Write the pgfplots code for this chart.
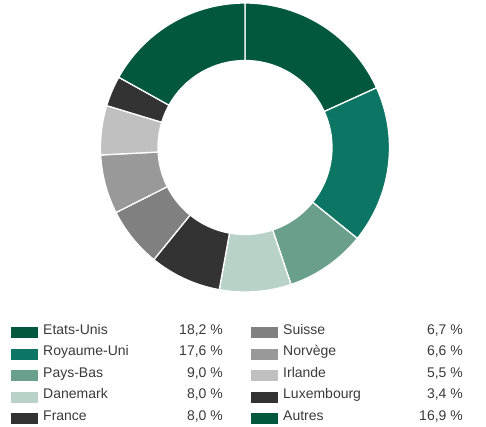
\documentclass[border=0pt]{standalone}
\usepackage{pgfplots}
\usepackage{pgfplotstable}
\pgfplotsset{compat=1.18}
\usepackage{fontspec}
\setmainfont{Liberation Sans}
\definecolor{c0}{HTML}{02573F}
\definecolor{c1}{HTML}{0C7563}
\definecolor{c2}{HTML}{6A9F8C}
\definecolor{c3}{HTML}{B8D2C8}
\definecolor{c4}{HTML}{333333}
\definecolor{c5}{HTML}{808080}
\definecolor{c6}{HTML}{999999}
\definecolor{c7}{HTML}{C0C0C0}
\definecolor{c8}{HTML}{333333}
\definecolor{c9}{HTML}{02573F}
\definecolor{txt}{HTML}{3A3A3A}
\pgfplotstableread{
idx value
0 18.2
1 17.6
2 9.0
3 8.0
4 8.0
5 6.7
6 6.6
7 5.5
8 3.4
9 16.9
}\data
\begin{document}
\begin{tikzpicture}
\begin{axis}[scale only axis, width=486bp, height=427bp,
  xmin=0, xmax=486, ymin=0, ymax=427, y dir=reverse,
  hide axis, clip=false]
\path (axis cs:0,0) rectangle (axis cs:486,427);
\pgfmathsetmacro\cum{0}
\pgfplotsforeachungrouped \i in {0,...,9}{%
  \pgfplotstablegetelem{\i}{value}\of\data
  \let\val=\pgfplotsretval
  \pgfmathsetmacro\aa{90-3.603604*\cum}
  \pgfmathsetmacro\cum{\cum+\val}
  \pgfmathsetmacro\bb{90-3.603604*\cum}
  \edef\cmd{\noexpand\fill[c\i, draw=white, line width=1.3bp] (axis cs:245,147.5) ++(\aa:144.5bp) arc[start angle=\aa, end angle=\bb, radius=144.5bp] -- ++(\bb:-57.5bp) arc[start angle=\bb, end angle=\aa, radius=87bp] -- cycle;}%
  \cmd
}
% legend
\tikzset{lab/.style={anchor=base west, text=txt, inner sep=0pt, font=\fontsize{14bp}{16bp}\selectfont},
         num/.style={anchor=base east, text=txt, inner sep=0pt, font=\fontsize{14bp}{16bp}\selectfont}}
\fill[c0] (axis cs:11,327) rectangle (axis cs:38,338);
\node[lab] at (axis cs:43,334) {Etats-Unis};
\node[num] at (axis cs:223,334) {18,2 \%};
\fill[c1] (axis cs:11,348.5) rectangle (axis cs:38,359.5);
\node[lab] at (axis cs:43,355.5) {Royaume-Uni};
\node[num] at (axis cs:223,355.5) {17,6 \%};
\fill[c2] (axis cs:11,370) rectangle (axis cs:38,381);
\node[lab] at (axis cs:43,377) {Pays-Bas};
\node[num] at (axis cs:223,377) {9,0 \%};
\fill[c3] (axis cs:11,391.5) rectangle (axis cs:38,402.5);
\node[lab] at (axis cs:43,398.5) {Danemark};
\node[num] at (axis cs:223,398.5) {8,0 \%};
\fill[c4] (axis cs:11,413) rectangle (axis cs:38,424);
\node[lab] at (axis cs:43,420) {France};
\node[num] at (axis cs:223,420) {8,0 \%};
\fill[c5] (axis cs:251,327) rectangle (axis cs:278,338);
\node[lab] at (axis cs:283,334) {Suisse};
\node[num] at (axis cs:463,334) {6,7 \%};
\fill[c6] (axis cs:251,348.5) rectangle (axis cs:278,359.5);
\node[lab] at (axis cs:283,355.5) {Norvège};
\node[num] at (axis cs:463,355.5) {6,6 \%};
\fill[c7] (axis cs:251,370) rectangle (axis cs:278,381);
\node[lab] at (axis cs:283,377) {Irlande};
\node[num] at (axis cs:463,377) {5,5 \%};
\fill[c8] (axis cs:251,391.5) rectangle (axis cs:278,402.5);
\node[lab] at (axis cs:283,398.5) {Luxembourg};
\node[num] at (axis cs:463,398.5) {3,4 \%};
\fill[c9] (axis cs:251,413) rectangle (axis cs:278,424);
\node[lab] at (axis cs:283,420) {Autres};
\node[num] at (axis cs:463,420) {16,9 \%};
\end{axis}
\end{tikzpicture}
\end{document}
